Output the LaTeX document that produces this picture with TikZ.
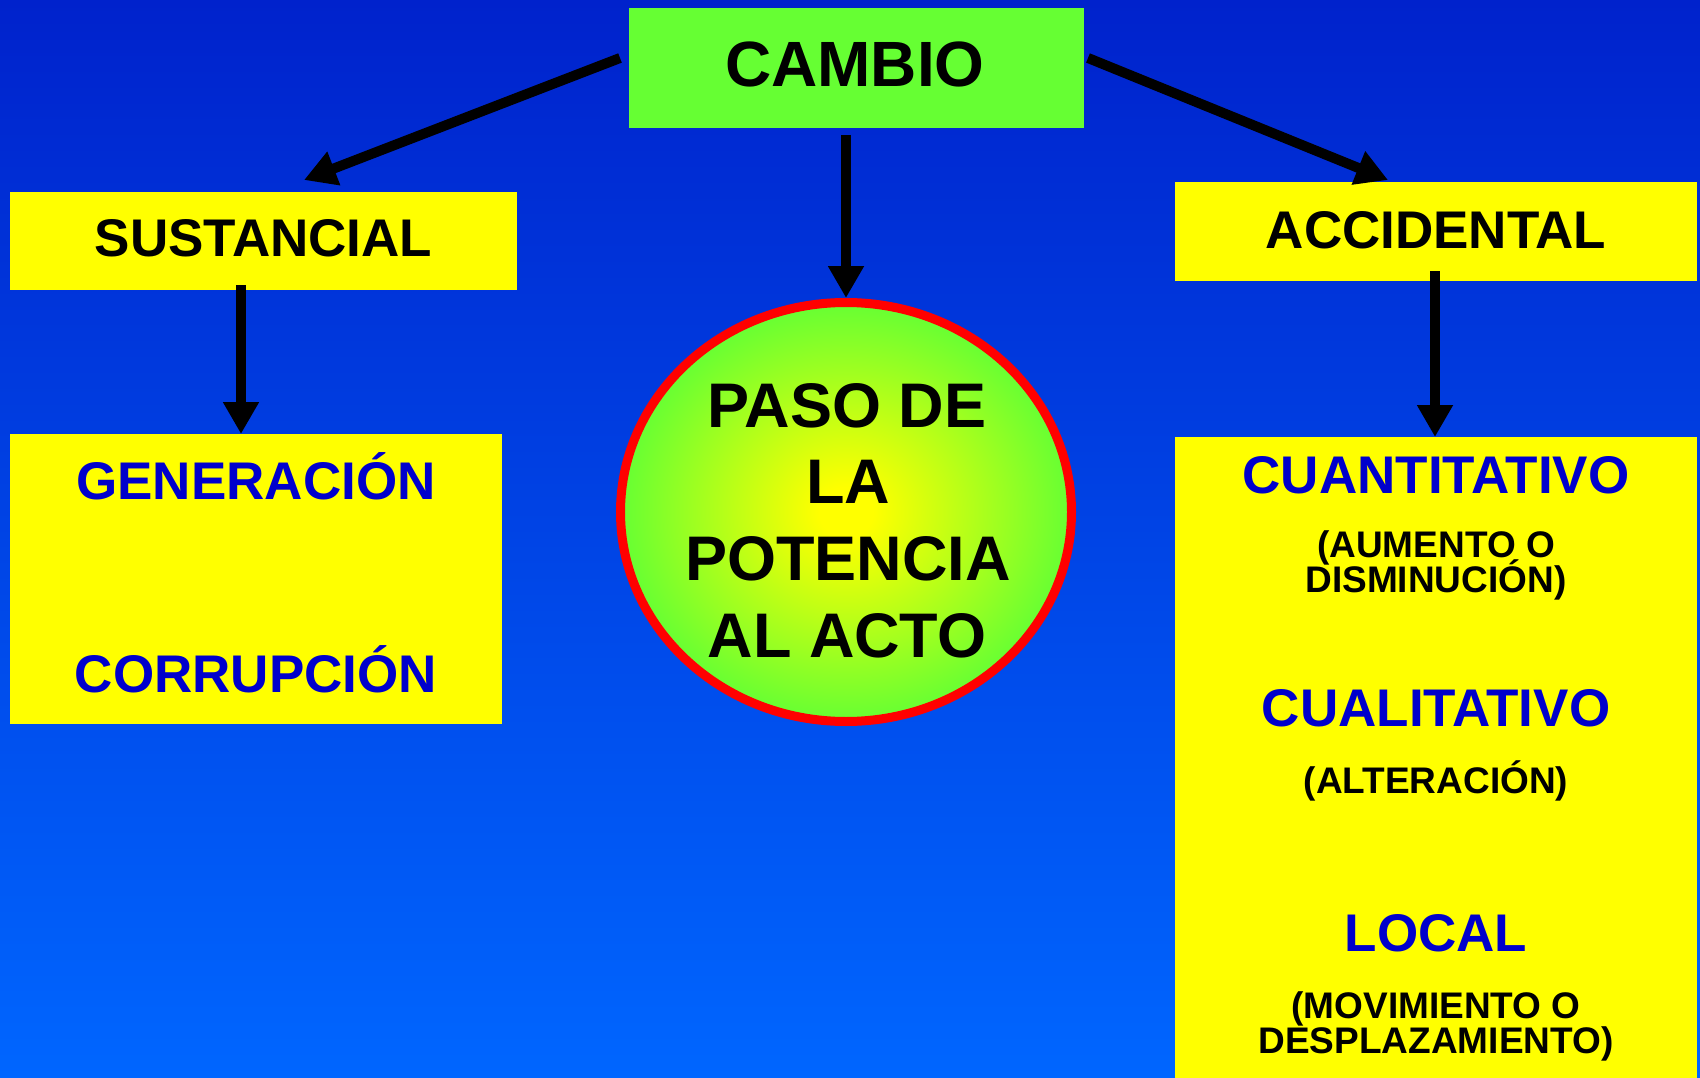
\documentclass[tikz,border=0pt]{standalone}
\usepackage{fontspec}
\setmainfont{Liberation Sans}
\usetikzlibrary{arrows.meta,shapes.geometric,calc}
\definecolor{bgtop}{RGB}{0,34,204}
\definecolor{bgbot}{RGB}{0,102,255}
\definecolor{grn}{RGB}{102,255,51}
\definecolor{ylw}{RGB}{255,255,0}
\definecolor{txtblue}{RGB}{0,0,204}
\pgfdeclareradialshading{ballshade}{\pgfpoint{0bp}{0bp}}{color(0bp)=(ylw); color(3bp)=(ylw); color(25bp)=(grn); color(50bp)=(grn)}
\tikzset{
  box/.style={rectangle, inner sep=0, outer sep=0},
  arr/.style={line width=10pt, -{Triangle[width=34pt,length=32pt]}},
  lbl/.style={anchor=base, inner sep=0, outer sep=0},
  big/.style={lbl, font=\bfseries\fontsize{53}{53}\selectfont},
  small/.style={lbl, font=\bfseries\fontsize{37}{37}\selectfont},
}
\begin{document}
\begin{tikzpicture}[x=1pt,y=-1pt]
\useasboundingbox (0,0) rectangle (1700,1078);
\shade[top color=bgtop,bottom color=bgbot] (0,0) rectangle (1700,1078);

% boxes
\node[box, fill=grn, minimum width=455pt, minimum height=120pt] (cambio) at (856.5,68) {};
\node[box, fill=ylw, minimum width=507pt, minimum height=98pt] (sust) at (263.5,241) {};
\node[box, fill=ylw, minimum width=522pt, minimum height=99pt] (accid) at (1436,231.5) {};
\node[box, fill=ylw, minimum width=492pt, minimum height=290pt] (gen) at (256,579) {};
\node[box, fill=ylw, minimum width=522pt, minimum height=641pt] (local) at (1436,757.5) {};
\node[ellipse, draw=red, line width=9pt, minimum width=451pt, minimum height=419pt,
      inner sep=0, shading=ballshade] (paso) at (846,512) {};

% texts
\node[lbl, font=\bfseries\fontsize{64}{64}\selectfont] (tcambio) at (855,87) {CAMBIO};
\node[big] (tsust) at (263.5,257) {SUSTANCIAL};
\node[big] (taccid) at (1436,248) {ACCIDENTAL};

\node[lbl, font=\bfseries\fontsize{63}{63}\selectfont] (p1) at (847,427) {PASO DE};
\node[lbl, font=\bfseries\fontsize{63}{63}\selectfont] (p2) at (848,503) {LA};
\node[lbl, font=\bfseries\fontsize{63}{63}\selectfont] (p3) at (848,580) {POTENCIA};
\node[lbl, font=\bfseries\fontsize{63}{63}\selectfont] (p4) at (847,657) {AL ACTO};

\node[big, text=txtblue] (tgen) at (256,499) {GENERACIÓN};
\node[big, text=txtblue] (tcorr) at (256,692) {CORRUPCIÓN};

\node[big, text=txtblue] (tcuant) at (1436,493) {CUANTITATIVO};
\node[small] (s1) at (1436,557) {(AUMENTO O};
\node[small] (s2) at (1436,592) {DISMINUCIÓN)};
\node[big, text=txtblue] (tcual) at (1436,726) {CUALITATIVO};
\node[small] (s3) at (1436,793) {(ALTERACIÓN)};
\node[big, text=txtblue] (tlocal) at (1436,951) {LOCAL};
\node[small] (s4) at (1436,1018) {(MOVIMIENTO O};
\node[small] (s5) at (1436,1053) {DESPLAZAMIENTO)};

% arrows
\draw[arr] ($(cambio.west)+(-9,-10)$) -- ($(sust.north)+(40.5,-12)$);
\draw[arr] ($(cambio.east)+(4,-10)$) -- ($(accid.north)+(-48,-2)$);
\draw[arr] ($(cambio.south)+(-10.5,7)$) -- (paso.north);
\draw[arr] ($(sust.south)+(-22.5,-5)$) -- ($(gen.north)+(-15,0)$);
\draw[arr] ($(accid.south)+(-1,-10)$) -- ($(local.north)+(-1,0)$);
\end{tikzpicture}
\end{document}
